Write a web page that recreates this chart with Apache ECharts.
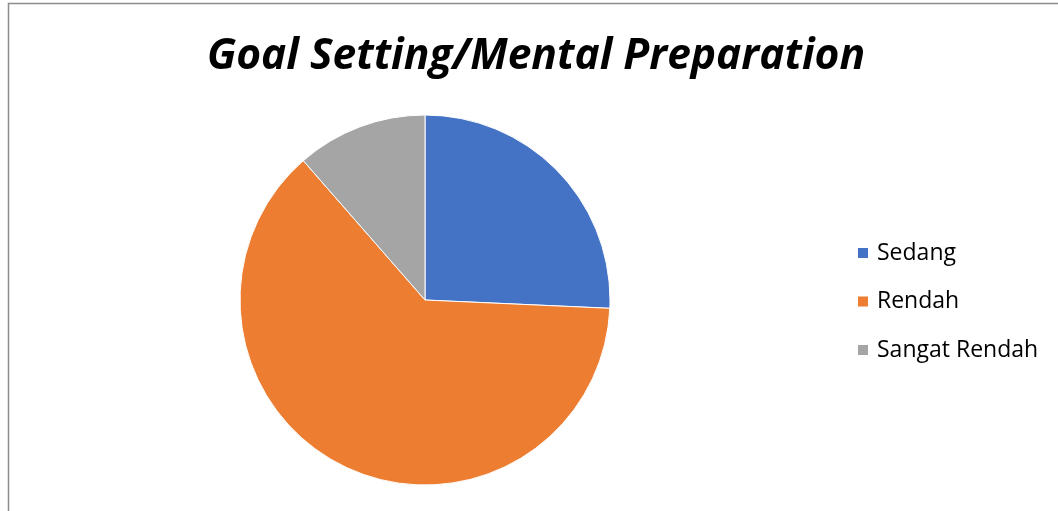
<!DOCTYPE html>
<html>
<head>
<meta charset="utf-8">
<script src="https://cdn.jsdelivr.net/npm/echarts@6/dist/echarts.min.js"></script>
<style>
html,body{margin:0;padding:0;background:#fff;}
#chart{width:1058px;height:511px;}
</style>
</head>
<body>
<div id="chart"></div>
<script>
const titleText = 'Goal Setting/Mental Preparation';
const categories = ['Sedang', 'Rendah', 'Sangat Rendah'];
const values = [9, 22, 4];
const colors = ['#4472C4', '#ED7D31', '#A5A5A5'];

const chart = echarts.init(document.getElementById('chart'), null, {renderer: 'canvas'});
chart.setOption({
  animation: false,
  backgroundColor: '#ffffff',
  graphic: [{
    type: 'rect',
    shape: {x: 8.5, y: 3.5, width: 1200, height: 700},
    style: {fill: 'none', stroke: '#8c8c8c', lineWidth: 1.5},
    silent: true
  }],
  title: {
    text: titleText,
    left: 536, top: 35, textAlign: 'center', padding: 0,
    textStyle: {fontFamily: 'Open Sans', fontStyle: 'italic', fontWeight: 'bold', fontSize: 42.5, color: '#000'}
  },
  legend: {
    orient: 'vertical',
    left: 856, top: 241, padding: 0,
    icon: 'rect', itemWidth: 12, itemHeight: 12, itemGap: 24.5,
    data: categories,
    textStyle: {fontFamily: 'Open Sans', fontSize: 23, color: '#000', lineHeight: 24, padding: [0,0,0,3]}
  },
  series: [{
    type: 'pie',
    center: [425, 300],
    radius: 185,
    startAngle: 90,
    clockwise: true,
    label: {show: false},
    labelLine: {show: false},
    itemStyle: {borderColor: '#fff', borderWidth: 1},
    data: categories.map((c, i) => ({name: c, value: values[i], itemStyle: {color: colors[i]}}))
  }]
});
</script>
</body>
</html>
